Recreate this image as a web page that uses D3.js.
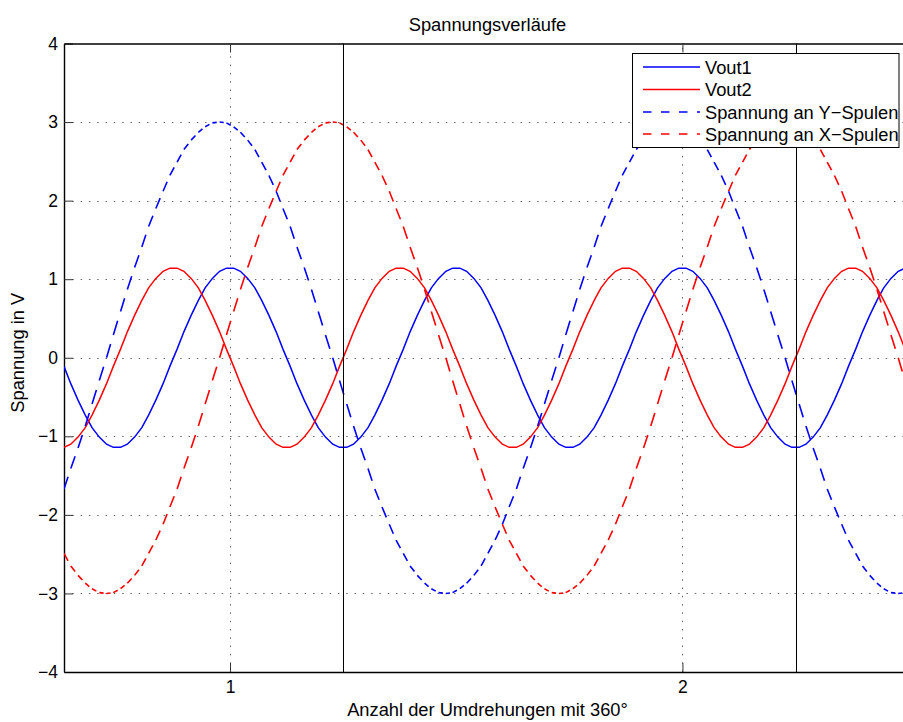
<!DOCTYPE html>
<html>
<head>
<meta charset="utf-8">
<script src="https://cdn.jsdelivr.net/npm/d3@7"></script>
<style>
  html, body { margin: 0; padding: 0; background: #fff; }
  svg { display: block; }
  text { font-family: "Liberation Sans", Arial, Helvetica, sans-serif; }
</style>
</head>
<body>
<svg id="chart" width="903" height="722"></svg>
<script>
// ---- data ----
const title = "Spannungsverläufe";
const xLabel = "Anzahl der Umdrehungen mit 360°";
const yLabel = "Spannung in V";
const seriesNames = ["Vout1", "Vout2", "Spannung an Y−Spulen", "Spannung an X−Spulen"];

const xTicks = [1, 2];
const xTickLabels = ["1", "2"];
const yTicks = [-4, -3, -2, -1, 0, 1, 2, 3, 4];
const yTickLabels = ["−4", "−3", "−2", "−1", "0", "1", "2", "3", "4"];
const markerLines = [1.25, 2.25];

const xs = [0.633,0.648,0.664,0.680,0.695,0.711,0.727,0.742,0.758,0.773,0.789,0.805,0.820,0.836,0.852,0.867,0.883,0.898,0.914,0.930,0.945,0.961,0.977,0.992,
1.008,1.023,1.039,1.055,1.070,1.086,1.102,1.117,1.133,1.148,1.164,1.180,1.195,1.211,1.227,1.242,1.258,1.273,1.289,1.305,1.320,1.336,1.352,1.367,1.383,1.398,1.414,1.430,1.445,1.461,1.477,1.492,
1.508,1.523,1.539,1.555,1.570,1.586,1.602,1.617,1.633,1.648,1.664,1.680,1.695,1.711,1.727,1.742,1.758,1.773,1.789,1.805,1.820,1.836,1.852,1.867,1.883,1.898,1.914,1.930,1.945,1.961,1.977,1.992,
2.008,2.023,2.039,2.055,2.070,2.086,2.102,2.117,2.133,2.148,2.164,2.180,2.195,2.211,2.227,2.242,2.258,2.273,2.289,2.305,2.320,2.336,2.352,2.367,2.383,2.398,2.414,2.430,2.445,2.461,2.477,2.492];

const vout1 = [-0.11,-0.33,-0.54,-0.73,-0.89,-1.01,-1.10,-1.14,-1.14,-1.10,-1.01,-0.89,-0.73,-0.54,-0.33,-0.11,0.11,0.33,0.54,0.73,0.89,1.01,1.10,1.14,
1.14,1.10,1.01,0.89,0.73,0.54,0.33,0.11,-0.11,-0.33,-0.54,-0.73,-0.89,-1.01,-1.10,-1.14,-1.14,-1.10,-1.01,-0.89,-0.73,-0.54,-0.33,-0.11,0.11,0.33,0.54,0.73,0.89,1.01,1.10,1.14,
1.14,1.10,1.01,0.89,0.73,0.54,0.33,0.11,-0.11,-0.33,-0.54,-0.73,-0.89,-1.01,-1.10,-1.14,-1.14,-1.10,-1.01,-0.89,-0.73,-0.54,-0.33,-0.11,0.11,0.33,0.54,0.73,0.89,1.01,1.10,1.14,
1.14,1.10,1.01,0.89,0.73,0.54,0.33,0.11,-0.11,-0.33,-0.54,-0.73,-0.89,-1.01,-1.10,-1.14,-1.14,-1.10,-1.01,-0.89,-0.73,-0.54,-0.33,-0.11,0.11,0.33,0.54,0.73,0.89,1.01,1.10,1.14];

const vout2 = [-1.14,-1.10,-1.01,-0.89,-0.73,-0.54,-0.33,-0.11,0.11,0.33,0.54,0.73,0.89,1.01,1.10,1.14,1.14,1.10,1.01,0.89,0.73,0.54,0.33,0.11,
-0.11,-0.33,-0.54,-0.73,-0.89,-1.01,-1.10,-1.14,-1.14,-1.10,-1.01,-0.89,-0.73,-0.54,-0.33,-0.11,0.11,0.33,0.54,0.73,0.89,1.01,1.10,1.14,1.14,1.10,1.01,0.89,0.73,0.54,0.33,0.11,
-0.11,-0.33,-0.54,-0.73,-0.89,-1.01,-1.10,-1.14,-1.14,-1.10,-1.01,-0.89,-0.73,-0.54,-0.33,-0.11,0.11,0.33,0.54,0.73,0.89,1.01,1.10,1.14,1.14,1.10,1.01,0.89,0.73,0.54,0.33,0.11,
-0.11,-0.33,-0.54,-0.73,-0.89,-1.01,-1.10,-1.14,-1.14,-1.10,-1.01,-0.89,-0.73,-0.54,-0.33,-0.11,0.11,0.33,0.54,0.73,0.89,1.01,1.10,1.14,1.14,1.10,1.01,0.89,0.73,0.54,0.33,0.11];

const yCoil = [-1.67,-1.41,-1.15,-0.87,-0.59,-0.29,0.00,0.29,0.59,0.87,1.15,1.41,1.67,1.90,2.12,2.32,2.49,2.65,2.77,2.87,2.94,2.99,
3.00,2.99,2.94,2.87,2.77,2.65,2.49,2.32,2.12,1.90,1.67,1.41,1.15,0.87,0.59,0.29,0.00,-0.29,-0.59,-0.87,-1.15,-1.41,-1.67,-1.90,-2.12,-2.32,-2.49,-2.65,-2.77,-2.87,-2.94,-2.99,
-3.00,-2.99,-2.94,-2.87,-2.77,-2.65,-2.49,-2.32,-2.12,-1.90,-1.67,-1.41,-1.15,-0.87,-0.59,-0.29,0.00,0.29,0.59,0.87,1.15,1.41,1.67,1.90,2.12,2.32,2.49,2.65,2.77,2.87,2.94,2.99,
3.00,2.99,2.94,2.87,2.77,2.65,2.49,2.32,2.12,1.90,1.67,1.41,1.15,0.87,0.59,0.29,0.00,-0.29,-0.59,-0.87,-1.15,-1.41,-1.67,-1.90,-2.12,-2.32,-2.49,-2.65,-2.77,-2.87,-2.94,-2.99,
-3.00,-2.99];

const xCoil = [-2.49,-2.65,-2.77,-2.87,-2.94,-2.99,-3.00,-2.99,-2.94,-2.87,-2.77,-2.65,-2.49,-2.32,-2.12,-1.90,
-1.67,-1.41,-1.15,-0.87,-0.59,-0.29,0.00,0.29,0.59,0.87,1.15,1.41,1.67,1.90,2.12,2.32,2.49,2.65,2.77,2.87,2.94,2.99,
3.00,2.99,2.94,2.87,2.77,2.65,2.49,2.32,2.12,1.90,1.67,1.41,1.15,0.87,0.59,0.29,0.00,-0.29,-0.59,-0.87,-1.15,-1.41,-1.67,-1.90,-2.12,-2.32,-2.49,-2.65,-2.77,-2.87,-2.94,-2.99,
-3.00,-2.99,-2.94,-2.87,-2.77,-2.65,-2.49,-2.32,-2.12,-1.90,-1.67,-1.41,-1.15,-0.87,-0.59,-0.29,0.00,0.29,0.59,0.87,1.15,1.41,1.67,1.90,2.12,2.32,2.49,2.65,2.77,2.87,2.94,2.99,
3.00,2.99,2.94,2.87,2.77,2.65,2.49,2.32,2.12,1.90,1.67,1.41,1.15,0.87,0.59,0.29,0.00,-0.29];

// ---- layout ----
const W = 903, H = 722;
const plot = { left: 64, right: 905, top: 43.5, bottom: 672 };
const FS = 18.3;

const svg = d3.select("#chart");
svg.append("rect").attr("width", W).attr("height", H).attr("fill", "#fff");

const x = d3.scaleLinear().domain([0.633, 2.492]).range([plot.left, plot.right]);
const y = d3.scaleLinear().domain([-4, 4]).range([plot.bottom, plot.top]);

svg.append("defs").append("clipPath").attr("id", "clip")
  .append("rect").attr("x", plot.left).attr("y", plot.top)
  .attr("width", plot.right - plot.left).attr("height", plot.bottom - plot.top);

// grid (dotted)
const grid = svg.append("g").attr("stroke", "#666").attr("stroke-width", 1)
  .attr("stroke-dasharray", "1.5,6.8").attr("fill", "none");
yTicks.filter(v => v > -4 && v < 4).forEach(v => {
  grid.append("line").attr("x1", plot.left).attr("x2", plot.right)
    .attr("y1", Math.round(y(v)) + 0.5).attr("y2", Math.round(y(v)) + 0.5);
});
xTicks.forEach(v => {
  grid.append("line").attr("y1", plot.bottom).attr("y2", plot.top)
    .attr("x1", Math.round(x(v)) + 0.5).attr("x2", Math.round(x(v)) + 0.5);
});

// axes (MATLAB style: ticks inward, box)
const axL = d3.axisLeft(y).tickValues(yTicks).tickFormat((d, i) => yTickLabels[i])
  .tickSizeInner(-9).tickSizeOuter(0).tickPadding(6);
const axB = d3.axisBottom(x).tickValues(xTicks).tickFormat((d, i) => xTickLabels[i])
  .tickSizeInner(-9).tickSizeOuter(0).tickPadding(9);
const axT = d3.axisTop(x).tickValues(xTicks).tickFormat("")
  .tickSizeInner(-9).tickSizeOuter(0);

const gL = svg.append("g").attr("transform", `translate(${plot.left},0)`).call(axL);
const gB = svg.append("g").attr("transform", `translate(0,${plot.bottom})`).call(axB);
const gT = svg.append("g").attr("transform", `translate(0,${plot.top})`).call(axT);
[gL, gB, gT].forEach(g => {
  g.select(".domain").attr("stroke", "#000").attr("stroke-width", 1.4);
  g.selectAll(".tick line").attr("stroke", "#333").attr("stroke-width", 1);
  g.selectAll(".tick text").attr("fill", "#000").attr("font-size", 17.5)
    .attr("font-family", '"Liberation Sans", Arial, sans-serif');
});

// data
const data = svg.append("g").attr("clip-path", "url(#clip)");
const solidLine = d3.line().x((d, i) => x(xs[i])).y(d => y(d));

data.append("path").attr("d", solidLine(vout1)).attr("fill", "none")
  .attr("stroke", "#0000ff").attr("stroke-width", 1.5);
data.append("path").attr("d", solidLine(vout2)).attr("fill", "none")
  .attr("stroke", "#ff0000").attr("stroke-width", 1.5);

// dashed: each sample segment drawn partially (dash pattern restarts per segment)
function dashedPath(vals) {
  const p = d3.path();
  for (let i = 0; i < vals.length - 1; i++) {
    const x0 = x(xs[i]), y0 = y(vals[i]);
    const x1 = x(xs[i + 1]), y1 = y(vals[i + 1]);
    p.moveTo(x0, y0);
    p.lineTo(x0 + 0.6 * (x1 - x0), y0 + 0.6 * (y1 - y0));
  }
  return p.toString();
}
data.append("path").attr("d", dashedPath(yCoil)).attr("fill", "none")
  .attr("stroke", "#0000ff").attr("stroke-width", 1.6);
data.append("path").attr("d", dashedPath(xCoil)).attr("fill", "none")
  .attr("stroke", "#ff0000").attr("stroke-width", 1.6);

// vertical marker lines
markerLines.forEach(v => {
  svg.append("line").attr("x1", Math.round(x(v)) + 0.5).attr("x2", Math.round(x(v)) + 0.5)
    .attr("y1", plot.top).attr("y2", plot.bottom)
    .attr("stroke", "#000").attr("stroke-width", 1);
});

// title & labels
svg.append("text").attr("x", (plot.left + plot.right) / 2 + 3).attr("y", 31)
  .attr("text-anchor", "middle").attr("font-size", FS).text(title);
svg.append("text").attr("x", (plot.left + plot.right) / 2 + 3).attr("y", 716)
  .attr("text-anchor", "middle").attr("font-size", FS).text(xLabel);
svg.append("text").attr("transform", `translate(24,${(plot.top + plot.bottom) / 2 - 5}) rotate(-90)`)
  .attr("text-anchor", "middle").attr("font-size", FS).text(yLabel);

// legend
const lg = svg.append("g");
lg.append("rect").attr("x", 632.5).attr("y", 53.5).attr("width", 266.5).attr("height", 94)
  .attr("fill", "#fff").attr("stroke", "#000").attr("stroke-width", 1);
const legendStyles = [
  { color: "#0000ff", dash: null },
  { color: "#ff0000", dash: null },
  { color: "#0000ff", dash: "8.5,9.5" },
  { color: "#ff0000", dash: "8.5,9.5" }
];
const rowY = [67, 89.5, 112, 134];
seriesNames.forEach((name, i) => {
  lg.append("line").attr("x1", 643).attr("x2", 700).attr("y1", rowY[i]).attr("y2", rowY[i])
    .attr("stroke", legendStyles[i].color).attr("stroke-width", 1.3)
    .attr("stroke-dasharray", legendStyles[i].dash);
  lg.append("text").attr("x", 705).attr("y", rowY[i] + 6.5).attr("font-size", FS).text(name);
});
</script>
</body>
</html>
